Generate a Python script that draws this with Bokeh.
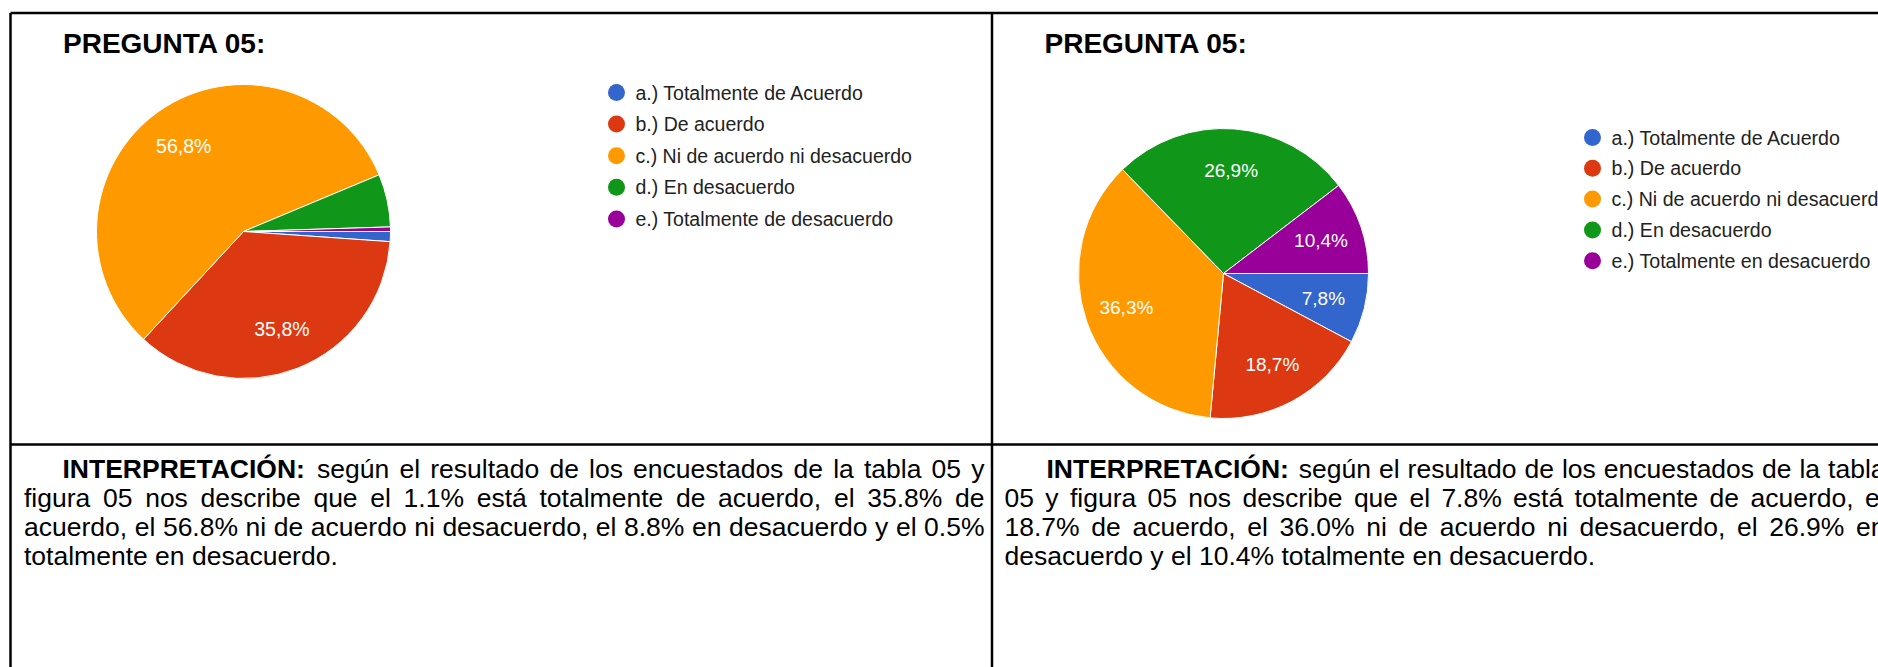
import math
from bokeh.plotting import figure
from bokeh.models import Range1d, ColumnDataSource
from bokeh.core.properties import value
from bokeh.embed import file_html
from bokeh.resources import INLINE

# ---------------- data ----------------
title_text = "PREGUNTA 05:"
categories_left = ["a.) Totalmente de Acuerdo", "b.) De acuerdo",
                   "c.) Ni de acuerdo ni desacuerdo", "d.) En desacuerdo",
                   "e.) Totalmente de desacuerdo"]
categories_right = ["a.) Totalmente de Acuerdo", "b.) De acuerdo",
                    "c.) Ni de acuerdo ni desacuerdo", "d.) En desacuerdo",
                    "e.) Totalmente en desacuerdo"]
values_left = [1.1, 35.8, 56.8, 5.8, 0.5]
values_right = [7.8, 18.7, 36.3, 26.9, 10.4]
colors = ["#3366CC", "#DC3912", "#FF9900", "#109618", "#990099"]

bold_word = "INTERPRETACIÓN:"
text_left = [
    "según el resultado de los encuestados de la tabla 05 y",
    "figura 05 nos describe que el 1.1% está totalmente de acuerdo, el 35.8% de",
    "acuerdo, el 56.8% ni de acuerdo ni desacuerdo, el 8.8% en desacuerdo y el 0.5%",
    "totalmente en desacuerdo.",
]
text_right = [
    "según el resultado de los encuestados de la tabla",
    "05 y figura 05 nos describe que el 7.8% está totalmente de acuerdo, el",
    "18.7% de acuerdo, el 36.0% ni de acuerdo ni desacuerdo, el 26.9% en",
    "desacuerdo y el 10.4% totalmente en desacuerdo.",
]

# ---------------- page geometry ----------------
PAGE_W, PAGE_H = 1878, 667
FONT = "Liberation Sans"
MID = 0.3465  # em offset from baseline to the "middle" anchor


def Y(py):
    return PAGE_H - py


p = figure(width=PAGE_W, height=PAGE_H,
           x_range=Range1d(0, PAGE_W), y_range=Range1d(0, PAGE_H),
           output_backend="svg", toolbar_location=None,
           x_axis_type=None, y_axis_type=None,
           min_border=0, min_border_left=0, min_border_right=0,
           min_border_top=0, min_border_bottom=0)
p.grid.visible = False
p.outline_line_color = None
p.background_fill_color = "white"
p.border_fill_color = "white"

# ---------------- table borders ----------------
bx0 = [10, 10, 991.5, 10]
by0 = [12.5, 12.5, 12.5, 444]
bx1 = [1885, 10, 991.5, 1885]
by1 = [12.5, 680, 680, 444]
p.segment(x0=bx0, y0=[Y(v) for v in by0], x1=bx1, y1=[Y(v) for v in by1],
          line_color="black", line_width=2.5)

# ---------------- titles ----------------
TFS = 28
p.text(x=[62.5, 1044], y=[Y(53 - MID * TFS)] * 2, text=[title_text, title_text],
       text_font=value(FONT), text_font_style="bold", text_font_size="%dpx" % TFS,
       text_color="black", text_baseline="middle", text_align="left")


# ---------------- pies ----------------
def pie(cx, cy, r, vals, cats, label_fs, leg_x, leg_y0, leg_dy, leg_fs):
    total = float(sum(vals))
    cum = 0.0
    sa, ea, lx, ly, lt = [], [], [], [], []
    for v in vals:
        a0 = cum / total * 2 * math.pi
        cum += v
        a1 = cum / total * 2 * math.pi
        sa.append(-a1)
        ea.append(-a0)
        mid = (a0 + a1) / 2
        if v / total * 100 >= 7:
            lx.append(cx + 0.71 * r * math.cos(mid))
            ly.append(Y(cy) - 0.71 * r * math.sin(mid))
            lt.append(("%.1f" % v).replace(".", ",") + "%")
    src = ColumnDataSource(dict(start=sa, end=ea, color=colors))
    p.wedge(x=cx, y=Y(cy), radius=r, radius_units="screen",
            start_angle="start", end_angle="end", direction="anticlock",
            fill_color="color", line_color="white", line_width=1, source=src)
    p.text(x=lx, y=ly, text=lt, text_font=value(FONT),
           text_font_size="%gpx" % label_fs, text_color="white",
           text_align="center", text_baseline="middle")
    ys = [Y(leg_y0 + i * leg_dy) for i in range(len(cats))]
    p.scatter(x=[leg_x] * len(cats), y=ys, marker="circle", size=17,
              fill_color=colors, line_color=None)
    p.text(x=[leg_x + 19] * len(cats), y=ys, text=cats, text_font=value(FONT),
           text_font_size="%gpx" % leg_fs, text_color="#222222",
           text_align="left", text_baseline="middle")


pie(243, 231, 147, values_left, categories_left, 19.5, 616, 92, 31.6, 19.5)
pie(1223, 273, 145, values_right, categories_right, 19, 1592, 137, 30.8, 19.6)

# ---------------- justified paragraph ----------------
AR = {' ': 278, '%': 889, ',': 278, '.': 278, ':': 278, ')': 333, '(': 333,
      '-': 333}
for c in "0123456789":
    AR[c] = 556
AR.update(dict(zip("ABCDEFGHIJKLMNOPQRSTUVWXYZ",
                   [667, 667, 722, 722, 667, 611, 778, 722, 278, 500, 667, 556, 833,
                    722, 778, 667, 778, 722, 667, 611, 722, 667, 944, 667, 667, 611])))
AR.update(dict(zip("abcdefghijklmnopqrstuvwxyz",
                   [556, 556, 500, 556, 556, 278, 556, 556, 222, 222, 500, 222, 833,
                    556, 556, 556, 556, 333, 500, 278, 556, 500, 722, 500, 500, 500])))
AR.update({'á': 556, 'é': 556, 'í': 278, 'ó': 556, 'ú': 556, 'ñ': 556, 'Ó': 778})
ARB = {'I': 278, 'N': 722, 'T': 611, 'E': 667, 'R': 722, 'P': 667, 'A': 722,
       'C': 722, 'Ó': 778, 'O': 778, ':': 333}

BODY_FS = 26.5


def wwidth(w, bold=False):
    tbl = ARB if bold else AR
    return sum(tbl.get(c, 556) for c in w) * BODY_FS / 1000.0


reg = dict(x=[], y=[], t=[])
bld = dict(x=[], y=[], t=[])


def paragraph(lines, left, indent_x, right, baselines):
    for li, line in enumerate(lines):
        words = [(w, False) for w in line.split(" ")]
        x0 = left
        if li == 0:
            words = [(bold_word, True)] + words
            x0 = indent_x
        widths = [wwidth(w, b) for w, b in words]
        sp = AR[' '] * BODY_FS / 1000.0
        gaps = len(words) - 1
        if li < len(lines) - 1 and gaps > 0:
            gap = (right - x0 - sum(widths)) / gaps
        else:
            gap = sp
        x = x0
        ym = Y(baselines[li] - MID * BODY_FS)
        for (w, b), wd in zip(words, widths):
            d = bld if b else reg
            d["x"].append(x)
            d["y"].append(ym)
            d["t"].append(w)
            x += wd + gap


base = [478, 507, 536, 565]
paragraph(text_left, 23.5, 62, 984, base)
paragraph(text_right, 1004, 1046, 1885, base)

p.text(x=reg["x"], y=reg["y"], text=reg["t"], text_font=value(FONT),
       text_font_size="%gpx" % BODY_FS, text_color="black",
       text_align="left", text_baseline="middle")
p.text(x=bld["x"], y=bld["y"], text=bld["t"], text_font=value(FONT),
       text_font_style="bold", text_font_size="%gpx" % BODY_FS,
       text_color="black", text_align="left", text_baseline="middle")

open("out.html", "w").write(file_html(p, INLINE))
